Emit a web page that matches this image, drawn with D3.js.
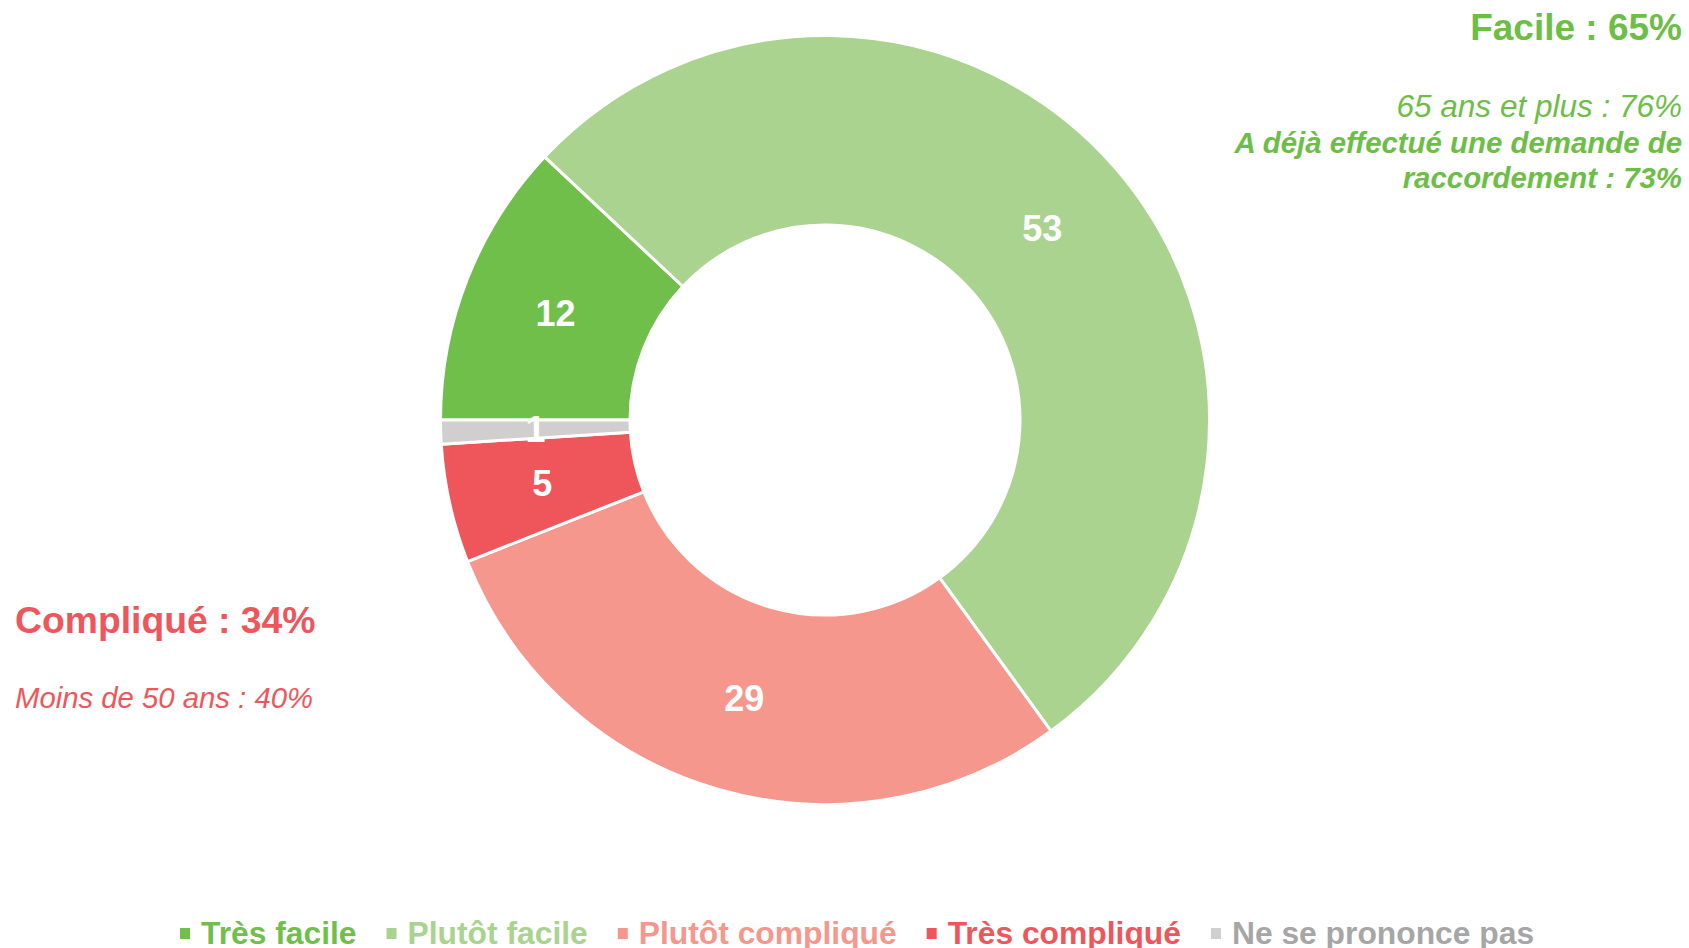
<!DOCTYPE html>
<html>
<head>
<meta charset="utf-8">
<script src="https://cdn.jsdelivr.net/npm/d3@7"></script>
<style>
  html, body { margin: 0; padding: 0; background: #ffffff; }
  svg { display: block; font-family: "Liberation Sans", Arial, sans-serif; }
</style>
</head>
<body>
<svg id="chart" width="1689" height="948"></svg>
<script>
const categories = ["Très facile", "Plutôt facile", "Plutôt compliqué", "Très compliqué", "Ne se prononce pas"];
const values = [12, 53, 29, 5, 1];
const sliceColors = ["#70BF4B", "#A9D38E", "#F5978C", "#EF565B", "#D0CECE"];
const legendTextColors = ["#70BF4B", "#A9D38E", "#F5978C", "#EF565B", "#A6A6A6"];

const facileTitle = "Facile : 65%";
const facileNotes = ["65 ans et plus : 76%"];
const facileBoldNotes = ["A déjà effectué une demande de", "raccordement : 73%"];
const compliqueTitle = "Compliqué : 34%";
const compliqueNotes = ["Moins de 50 ans : 40%"];

const svg = d3.select("#chart");
const cx = 825, cy = 420;
const outerR = 384.5, innerR = 195;

const pie = d3.pie().sort(null)
  .startAngle(Math.PI * 1.5)
  .endAngle(Math.PI * 3.5);
const arcs = pie(values);
const arc = d3.arc().innerRadius(innerR).outerRadius(outerR);

const g = svg.append("g").attr("transform", `translate(${cx},${cy})`);
g.selectAll("path.slice")
  .data(arcs)
  .join("path")
  .attr("class", "slice")
  .attr("d", arc)
  .attr("fill", (d, i) => sliceColors[i])
  .attr("stroke", "#ffffff")
  .attr("stroke-width", 3)
  .attr("stroke-linejoin", "round");

g.selectAll("text.lbl")
  .data(arcs)
  .join("text")
  .attr("class", "lbl")
  .attr("x", d => arc.centroid(d)[0])
  .attr("y", d => arc.centroid(d)[1])
  .attr("text-anchor", "middle")
  .attr("dominant-baseline", "central")
  .attr("fill", "#ffffff")
  .attr("font-weight", "bold")
  .attr("font-size", 36)
  .text(d => d.data);

// Top-right annotation
const green = "#6DBE47";
svg.append("text")
  .attr("x", 1682).attr("y", 40)
  .attr("text-anchor", "end")
  .attr("fill", green)
  .attr("font-weight", "bold")
  .attr("font-size", 37)
  .text(facileTitle);
facileNotes.forEach((t, i) => {
  svg.append("text")
    .attr("x", 1682).attr("y", 117 + i * 35)
    .attr("text-anchor", "end")
    .attr("fill", green)
    .attr("font-style", "italic")
    .attr("font-size", 31.5)
    .text(t);
});
facileBoldNotes.forEach((t, i) => {
  svg.append("text")
    .attr("x", 1682).attr("y", 153 + i * 35)
    .attr("text-anchor", "end")
    .attr("fill", green)
    .attr("font-style", "italic")
    .attr("font-weight", "bold")
    .attr("font-size", 29.4)
    .text(t);
});

// Left annotation
const red = "#EF565B";
svg.append("text")
  .attr("x", 15).attr("y", 633)
  .attr("fill", red)
  .attr("font-weight", "bold")
  .attr("font-size", 37.3)
  .text(compliqueTitle);
compliqueNotes.forEach((t, i) => {
  svg.append("text")
    .attr("x", 15).attr("y", 708 + i * 35)
    .attr("fill", red)
    .attr("font-style", "italic")
    .attr("font-size", 29.3)
    .text(t);
});

// Legend
const legend = svg.append("g").attr("class", "legend");
let lx = 180;
categories.forEach((c, i) => {
  const item = legend.append("g");
  item.append("rect")
    .attr("x", lx).attr("y", 928)
    .attr("width", 10).attr("height", 11)
    .attr("fill", sliceColors[i]);
  const t = item.append("text")
    .attr("x", lx + 21).attr("y", 944)
    .attr("fill", legendTextColors[i])
    .attr("font-weight", "bold")
    .attr("font-size", 31.8)
    .text(c);
  const w = t.node().getComputedTextLength();
  lx = lx + 21 + w + 30;
});
</script>
</body>
</html>
